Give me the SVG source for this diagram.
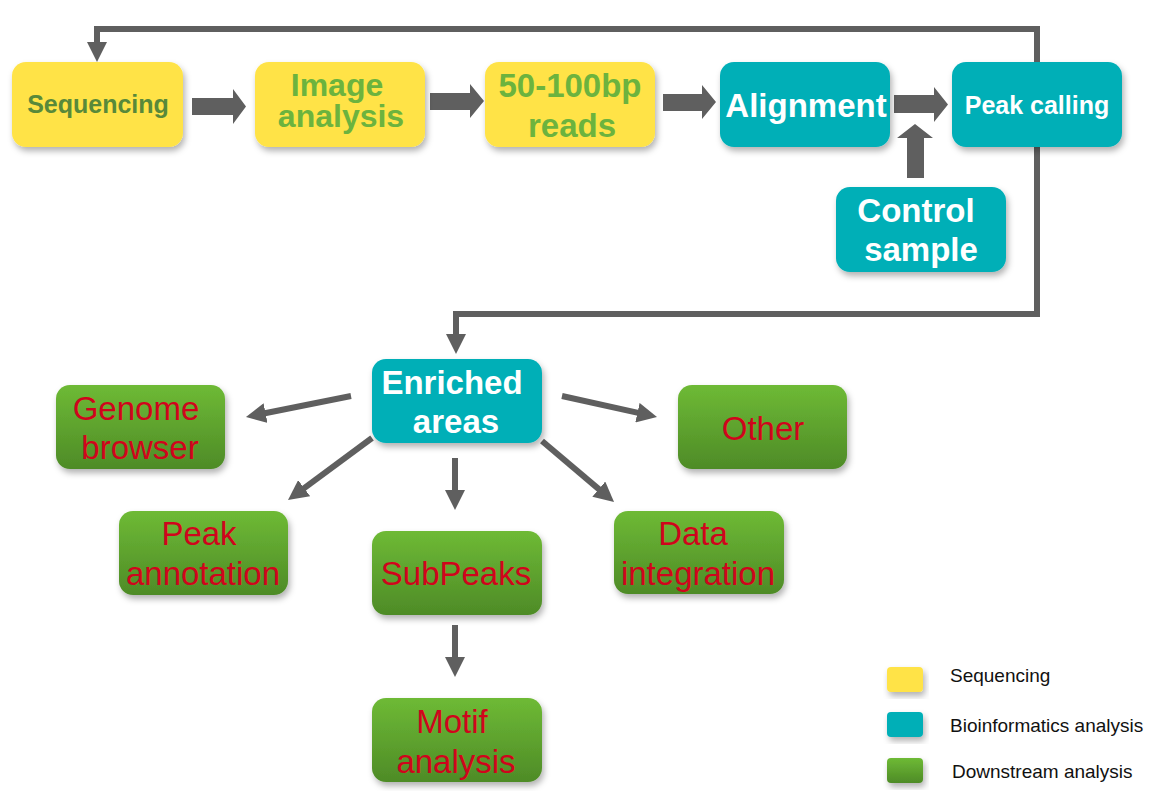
<svg xmlns="http://www.w3.org/2000/svg" width="1170" height="791" viewBox="0 0 1170 791">
<style>
.y{fill:#FFE347}
.t{fill:#03AFB7}
.g{fill:url(#gg)}
.box{filter:url(#sh)}
text{font-family:"Liberation Sans",Arial,sans-serif;text-anchor:middle}
.yt{fill:#6CB33E;font-weight:bold;font-size:33px}
.wt{fill:#FFFFFF;font-weight:bold;font-size:33px}
.rt{fill:#D0041C;font-size:33px}
.lt{fill:#111111;font-size:19px;text-anchor:start}
.ln{fill:none;stroke:#5F5F5F;stroke-width:6}
.blk{fill:#5F5F5F}
</style>
<defs>
<linearGradient id="gg" x1="0" y1="0" x2="0" y2="1">
<stop offset="0" stop-color="#6EBA35"/>
<stop offset="1" stop-color="#4E8B27"/>
</linearGradient>
<filter id="sh" x="-10%" y="-10%" width="125%" height="135%">
<feDropShadow dx="2" dy="4" stdDeviation="3" flood-color="#000" flood-opacity="0.3"/>
</filter>
<marker id="ah" markerUnits="userSpaceOnUse" markerWidth="20" markerHeight="20" viewBox="0 0 20 20" refX="2" refY="10" orient="auto">
<path d="M0,0 L20,10 L0,20 z" fill="#5F5F5F"/>
</marker>
</defs>
<g id="connectors">
<path class="ln" d="M1037,62 L1037,29 L97,29 L97,44" marker-end="url(#ah)"/>
<path class="ln" d="M1037,147 L1037,314 L456,314 L456,336" marker-end="url(#ah)"/>
<polygon class="blk" points="192,98 233,98 233,89 246,106.5 233,124 233,115 192,115"/>
<polygon class="blk" points="430,93 470,93 470,84 484,101 470,118 470,110 430,110"/>
<polygon class="blk" points="663,94 702,94 702,85 716,102 702,119 702,111 663,111"/>
<polygon class="blk" points="894,95 934,95 934,87 948,104.5 934,122 934,113 894,113"/>
<polygon class="blk" points="907,178 907,138 897,138 915,124 933,138 924,138 924,178"/>
<line class="ln" x1="351" y1="396" x2="263.6" y2="413.5" marker-end="url(#ah)"/>
<line class="ln" x1="562" y1="396" x2="639.4" y2="413.1" marker-end="url(#ah)"/>
<line class="ln" x1="372" y1="438" x2="302.5" y2="489.3" marker-end="url(#ah)"/>
<line class="ln" x1="455" y1="458" x2="455" y2="492" marker-end="url(#ah)"/>
<line class="ln" x1="542" y1="441" x2="600.3" y2="490.4" marker-end="url(#ah)"/>
<line class="ln" x1="455" y1="625" x2="455" y2="659" marker-end="url(#ah)"/>
</g>
<g id="sequencing">
<rect class="y box" x="12" y="62" width="171" height="85" rx="14"/>
<text x="98" y="113" style="fill:#58893A;font-weight:bold;font-size:25px">Sequencing</text>
</g>
<g id="image-analysis">
<rect class="y box" x="255" y="62" width="170" height="85" rx="14"/>
<text class="yt" x="337" y="96" style="font-size:32px">Image</text>
<text class="yt" x="341" y="127" style="font-size:32px">analysis</text>
</g>
<g id="reads">
<rect class="y box" x="485" y="62" width="170" height="85" rx="14"/>
<text class="yt" x="570" y="97">50-100bp</text>
<text class="yt" x="572" y="137">reads</text>
</g>
<g id="alignment">
<rect class="t box" x="720" y="62" width="170" height="85" rx="14"/>
<text class="wt" x="806" y="117">Alignment</text>
</g>
<g id="peak-calling">
<rect class="t box" x="952" y="62" width="170" height="85" rx="14"/>
<text class="wt" x="1037" y="114" style="font-size:25px">Peak calling</text>
</g>
<g id="control-sample">
<rect class="t box" x="836" y="187" width="170" height="85" rx="14"/>
<text class="wt" x="916" y="222">Control</text>
<text class="wt" x="921" y="261">sample</text>
</g>
<g id="enriched-areas">
<rect class="t box" x="372" y="359" width="170" height="84" rx="14"/>
<text class="wt" x="452" y="394">Enriched</text>
<text class="wt" x="456" y="433">areas</text>
</g>
<g id="genome-browser">
<rect class="g box" x="56" y="385" width="169" height="84" rx="14"/>
<text class="rt" x="136" y="420">Genome</text>
<text class="rt" x="140" y="459">browser</text>
</g>
<g id="other">
<rect class="g box" x="678" y="385" width="169" height="84" rx="14"/>
<text class="rt" x="763" y="440">Other</text>
</g>
<g id="peak-annotation">
<rect class="g box" x="119" y="511" width="169" height="84" rx="14"/>
<text class="rt" x="199" y="545">Peak</text>
<text class="rt" x="203" y="585">annotation</text>
</g>
<g id="subpeaks">
<rect class="g box" x="372" y="531" width="170" height="84" rx="14"/>
<text class="rt" x="456" y="585">SubPeaks</text>
</g>
<g id="data-integration">
<rect class="g box" x="614" y="511" width="170" height="83" rx="14"/>
<text class="rt" x="693" y="545">Data</text>
<text class="rt" x="698" y="585">integration</text>
</g>
<g id="motif-analysis">
<rect class="g box" x="372" y="698" width="170" height="84" rx="14"/>
<text class="rt" x="452" y="733">Motif</text>
<text class="rt" x="456" y="773">analysis</text>
</g>
<g id="legend">
<rect class="y box" x="887" y="667" width="36" height="25" rx="4"/>
<rect class="t box" x="887" y="712" width="36" height="25" rx="4"/>
<rect class="g box" x="887" y="758" width="36" height="25" rx="4"/>
<text class="lt" x="950" y="682">Sequencing</text>
<text class="lt" x="950" y="732">Bioinformatics analysis</text>
<text class="lt" x="952" y="778">Downstream analysis</text>
</g>
</svg>
